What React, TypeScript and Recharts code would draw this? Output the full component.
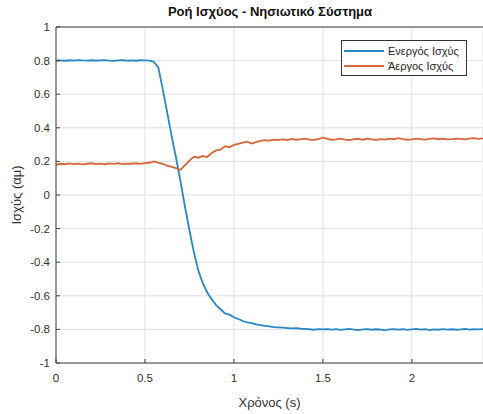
import { LineChart, Line, XAxis, YAxis, CartesianGrid, ReferenceLine } from "recharts";

// sampled every 25 ms
const SAMPLE_STEP = 0.025;

const ACTIVE_POWER = [
  0.800, 0.801, 0.799, 0.802, 0.800, 0.803, 0.801, 0.800, 0.802, 0.799,
  0.801, 0.803, 0.800, 0.798, 0.801, 0.802, 0.800, 0.801, 0.799, 0.802,
  0.801, 0.800,
  0.793, 0.760, 0.630, 0.490, 0.350, 0.220, 0.080, -0.070, -0.210, -0.340,
  -0.450, -0.525, -0.580, -0.620, -0.655, -0.680, -0.705, -0.712, -0.728, -0.738,
  -0.750, -0.758, -0.762, -0.770, -0.774, -0.779, -0.782, -0.786, -0.788, -0.790,
  -0.792, -0.794, -0.793, -0.796, -0.797, -0.799, -0.802, -0.798, -0.800,
  -0.798, -0.801, -0.799, -0.803, -0.800, -0.797, -0.801, -0.804, -0.800, -0.798,
  -0.802, -0.799, -0.801, -0.806, -0.800, -0.798, -0.801, -0.799, -0.803, -0.800,
  -0.797, -0.801, -0.799, -0.804, -0.800, -0.802, -0.798, -0.801, -0.799, -0.802,
  -0.800, -0.797, -0.801, -0.799, -0.800, -0.798,
];

const REACTIVE_POWER = [
  0.180, 0.186, 0.183, 0.188, 0.184, 0.187, 0.182, 0.186, 0.189, 0.184,
  0.187, 0.183, 0.188, 0.185, 0.190, 0.184, 0.187, 0.186, 0.189, 0.185,
  0.190, 0.192,
  0.200, 0.192, 0.185, 0.175, 0.168, 0.160, 0.150, 0.178, 0.205, 0.228,
  0.222, 0.232, 0.226, 0.250, 0.265, 0.270, 0.290, 0.284, 0.298, 0.305,
  0.312, 0.318, 0.306, 0.315, 0.322, 0.326, 0.324, 0.330, 0.328,
  0.331, 0.327, 0.334, 0.329, 0.332, 0.336, 0.330, 0.328, 0.333, 0.341,
  0.334, 0.329, 0.331, 0.335, 0.330, 0.327, 0.332, 0.334, 0.329, 0.336,
  0.331, 0.328, 0.333, 0.330, 0.335, 0.332, 0.338, 0.333, 0.329, 0.331,
  0.336, 0.333, 0.330, 0.334, 0.337, 0.332, 0.335, 0.331, 0.333, 0.336,
  0.334, 0.331, 0.335, 0.338, 0.334, 0.337,
];

const X_TICKS = [0, 0.5, 1, 1.5, 2];
const Y_TICKS = [-1, -0.8, -0.6, -0.4, -0.2, 0, 0.2, 0.4, 0.6, 0.8, 1];

const SERIES = [
  { key: "active", name: "Ενεργός Ισχύς", color: "#2a86c4" },
  { key: "reactive", name: "Άεργος Ισχύς", color: "#d9653b" },
];

const rows = ACTIVE_POWER.map((p, i) => ({
  t: +(i * SAMPLE_STEP).toFixed(3),
  active: p,
  reactive: REACTIVE_POWER[i],
}));

const FONT = "'Liberation Sans', Arial, sans-serif";
const TEXT = "#333333";
const AXIS = "#404040";

export default function App() {
  return (
    <div style={{ position: "absolute", left: 0, top: 0, width: 483, height: 414, background: "#fff", fontFamily: FONT }}>
      <div
        style={{
          position: "absolute", left: 56, top: 4, width: 428, textAlign: "center",
          fontSize: 13, fontWeight: "bold", color: "#111",
        }}
      >
        Ροή Ισχύος - Νησιωτικό Σύστημα
      </div>

      <LineChart width={483} height={414} data={rows} margin={{ top: 27, right: 0, left: 0, bottom: 0 }}>
        <CartesianGrid stroke="#e2e2e2" strokeWidth={1} />
        <XAxis
          dataKey="t"
          type="number"
          domain={[0, 2.4]}
          ticks={X_TICKS}
          height={51}
          allowDataOverflow
          tickSize={-4}
          tickMargin={15}
          stroke={AXIS}
          tick={{ fontSize: 11.5, fill: TEXT, fontFamily: FONT }}
          label={{ value: "Χρόνος (s)", position: "insideBottom", offset: 7, fontSize: 13, fill: TEXT, fontFamily: FONT }}
        />
        <YAxis
          type="number"
          domain={[-1, 1]}
          ticks={Y_TICKS}
          width={56}
          allowDataOverflow
          tickSize={-4}
          tickMargin={10}
          stroke={AXIS}
          tick={{ fontSize: 11.5, fill: TEXT, fontFamily: FONT }}
          label={{
            value: "Ισχύς (αμ)", angle: -90, position: "insideLeft", offset: 16,
            fontSize: 13, fill: TEXT, fontFamily: FONT, style: { textAnchor: "middle" },
          }}
        />
        <ReferenceLine y={1} stroke={AXIS} />
        {SERIES.map((s) => (
          <Line
            key={s.key}
            type="linear"
            dataKey={s.key}
            name={s.name}
            stroke={s.color}
            strokeWidth={1.8}
            dot={false}
            isAnimationActive={false}
          />
        ))}
      </LineChart>

      <div
        style={{
          position: "absolute", left: 341, top: 40, width: 124, height: 34,
          border: "1px solid #333", background: "#fff", fontSize: 11, color: "#262626",
        }}
      >
        {SERIES.map((s, i) => (
          <div key={s.key} style={{ position: "absolute", left: 0, top: 3 + i * 14.5, height: 14, display: "flex", alignItems: "center" }}>
            <div style={{ width: 40, height: 2, background: s.color, marginLeft: 2, marginRight: 4 }} />
            <span>{s.name}</span>
          </div>
        ))}
      </div>
    </div>
  );
}
